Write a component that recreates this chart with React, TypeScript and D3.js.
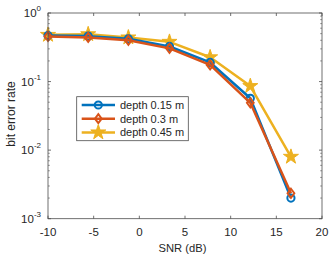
import React from "react";
import * as d3 from "d3";

const snr = [-10, -5.6, -1.2, 3.3, 7.75, 12.15, 16.6];
const ber015 = [0.47, 0.46, 0.42, 0.325, 0.19, 0.057, 0.002];
const ber03 = [0.455, 0.44, 0.4, 0.305, 0.175, 0.049, 0.00235];
const ber045 = [0.48, 0.49, 0.44, 0.38, 0.226, 0.086, 0.008];
const seriesNames = ["depth 0.15 m", "depth 0.3 m", "depth 0.45 m"];
const colors = ["#0072BD", "#D95319", "#EDB120"];
const xTicks = [-10, -5, 0, 5, 10, 15, 20];
const yTickExp = [0, -1, -2, -3];

const W = 332, H = 260;
const L = 48, R = 322, T = 13, B = 218.7;

function marker(kind: string, x: number, y: number, color: string, key: string) {
  if (kind === "circle") {
    return <circle key={key} cx={x} cy={y} r={3.6} fill="none" stroke={color} strokeWidth={2} />;
  }
  if (kind === "diamond") {
    const s = 4.5;
    return <path key={key} d={`M${x},${y - s}L${x + s * 0.75},${y}L${x},${y + s}L${x - s * 0.75},${y}Z`} fill="none" stroke={color} strokeWidth={2} />;
  }
  const star = d3.symbol(d3.symbolStar, 70)();
  return <path key={key} d={star || ""} transform={`translate(${x},${y})`} fill={color} stroke={color} strokeWidth={1} />;
}

export default function App() {
  const x = d3.scaleLinear().domain([-10, 20]).range([L, R]);
  const y = d3.scaleLog().domain([1e-3, 1]).range([B, T]);
  const data = [ber015, ber03, ber045];
  const kinds = ["circle", "diamond", "star"];
  const line = d3.line<number>().x((_, i) => x(snr[i])).y((v) => y(v));
  const minor: number[] = [];
  for (let e = -3; e < 0; e++) for (let k = 2; k <= 9; k++) minor.push(k * Math.pow(10, e));
  const axisColor = "#4d4d4d";
  const textColor = "#262626";
  const font = "'Liberation Sans', Arial, sans-serif";
  const order = [2, 0, 1];
  return (
    <svg width={W} height={H} style={{ position: "absolute", left: 0, top: 0, fontFamily: font }}>
      <rect x={0} y={0} width={W} height={H} fill="#fff" />
      <rect x={L} y={T} width={R - L} height={B - T} fill="#fff" />
      {order.map((si) => (
        <g key={si}>
          <path d={line(data[si]) || ""} fill="none" stroke={colors[si]} strokeWidth={2.5} strokeLinejoin="round" />
          {data[si].map((v, i) => marker(kinds[si], x(snr[i]), y(v), colors[si], `m${si}-${i}`))}
        </g>
      ))}
      <rect x={L} y={T} width={R - L} height={B - T} fill="none" stroke={axisColor} strokeWidth={0.8} />
      {xTicks.map((t) => (
        <g key={`xt${t}`}>
          <line x1={x(t)} x2={x(t)} y1={B} y2={B - 3} stroke={axisColor} strokeWidth={0.8} />
          <line x1={x(t)} x2={x(t)} y1={T} y2={T + 3} stroke={axisColor} strokeWidth={0.8} />
          <text x={x(t)} y={235.5} fontSize={11.5} textAnchor="middle" fill={textColor}>{t}</text>
        </g>
      ))}
      {yTickExp.map((e) => {
        const yy = y(Math.pow(10, e));
        return (
          <g key={`yt${e}`}>
            <line x1={L} x2={L + 3} y1={yy} y2={yy} stroke={axisColor} strokeWidth={0.8} />
            <line x1={R} x2={R - 3} y1={yy} y2={yy} stroke={axisColor} strokeWidth={0.8} />
            <text x={41} y={yy + 4} fontSize={11.5} textAnchor="end" fill={textColor}>
              <tspan>10</tspan>
              <tspan dy={-6} fontSize={8}>{e}</tspan>
            </text>
          </g>
        );
      })}
      {minor.map((m, i) => (
        <g key={`mn${i}`}>
          <line x1={L} x2={L + 1.8} y1={y(m)} y2={y(m)} stroke={axisColor} strokeWidth={0.6} />
          <line x1={R} x2={R - 1.8} y1={y(m)} y2={y(m)} stroke={axisColor} strokeWidth={0.6} />
        </g>
      ))}
      <text x={182.5} y={251.7} fontSize={11.2} textAnchor="middle" fill={textColor}>SNR (dB)</text>
      <text transform={`translate(15,114) rotate(-90)`} fontSize={12} textAnchor="middle" fill={textColor}>bit error rate</text>
      <g>
        <rect x={76.7} y={96.7} width={111.6} height={44} fill="#fff" stroke={axisColor} strokeWidth={0.8} />
        {seriesNames.map((n, i) => {
          const ly = 105 + i * 13.7;
          return (
            <g key={n}>
              <line x1={81.7} x2={115} y1={ly} y2={ly} stroke={colors[i]} strokeWidth={2.5} />
              {marker(kinds[i], 98.3, ly, colors[i], `lm${i}`)}
              <text x={120} y={ly + 4} fontSize={11} fill={textColor}>{n}</text>
            </g>
          );
        })}
      </g>
    </svg>
  );
}
